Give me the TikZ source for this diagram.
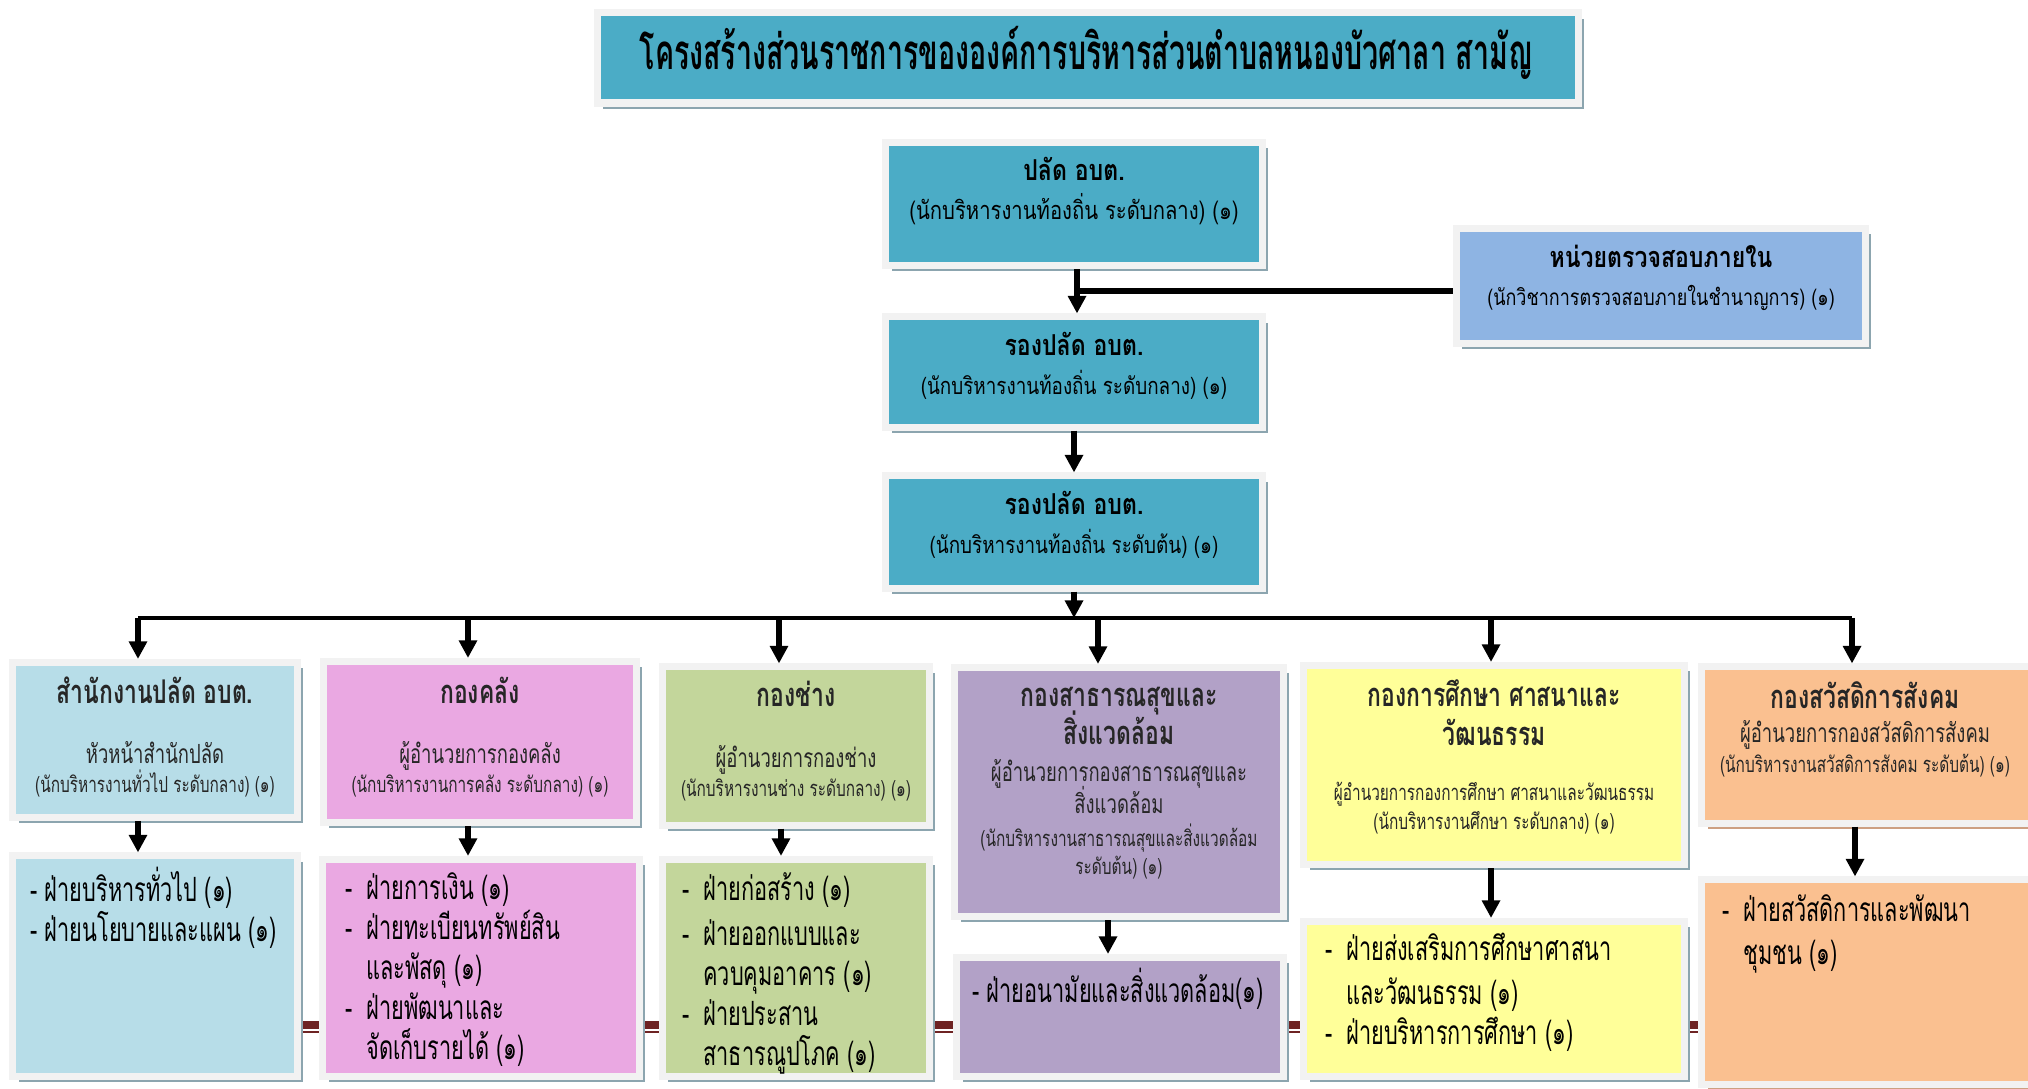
\documentclass[tikz,border=0pt]{standalone}
\definecolor{headteal}{RGB}{75, 172, 198}
\definecolor{auditblue}{RGB}{142, 180, 227}
\definecolor{officeblue}{RGB}{183, 221, 232}
\definecolor{financepink}{RGB}{234, 168, 226}
\definecolor{worksgreen}{RGB}{195, 214, 155}
\definecolor{healthpurple}{RGB}{178, 161, 199}
\definecolor{eduyellow}{RGB}{255, 255, 153}
\definecolor{welfareorange}{RGB}{250, 192, 144}
\definecolor{rimgray}{RGB}{242, 242, 242}
\definecolor{shadowgray}{RGB}{140, 165, 175}
\definecolor{warmshadow}{RGB}{205, 160, 130}
\definecolor{bandred}{RGB}{110, 35, 35}
\usepackage{fontspec}
\setmainfont[Script=Thai]{Loma}
\newfontfamily\topfont[Script=Thai, FakeStretch=0.8]{Loma}
\newfontfamily\condfont[Script=Thai, FakeStretch=0.7]{Loma}
\newfontfamily\itemfont[Script=Thai, FakeStretch=0.65]{Loma}
\newfontfamily\titlefont[Script=Thai, FakeStretch=0.58]{Loma}
\newcommand\itemdash{\makebox[2.1mm][l]{-}}
\newcommand\itemgap{\hspace*{2.1mm}}
\newcommand\fixlines{\lineskiplimit=-1000pt\relax}
\newcommand\tophead{\bfseries\fontsize{8.2}{11}\selectfont}
\newcommand\divhead{\bfseries\fontsize{9.3}{8.25}\selectfont}
\newcommand\divboss{\fontsize{7.5}{8.25}\selectfont}
\usepackage{tikz}
\usetikzlibrary{arrows.meta, shadows}

\begin{document}
\begin{tikzpicture}[x=0.01cm, y=-0.01cm,
  box/.style={fill=#1, draw=rimgray, line width=2pt, inner sep=0pt,
    general shadow={fill=shadowgray, shadow xshift=1.6pt, shadow yshift=-1.6pt}},
  warmbox/.style={fill=#1, draw=rimgray, line width=2pt, inner sep=0pt,
    general shadow={fill=warmshadow, shadow xshift=1.6pt, shadow yshift=-1.6pt}},
  link/.style={-{Triangle[width=5pt, length=5pt]}, line width=1.5pt},
  toptxt/.style={align=center, font=\topfont\fontsize{6.7}{11}\selectfont},
  divtxt/.style={align=center, font=\condfont\fontsize{6.25}{8.25}\selectfont\fixlines, text=black!85},
  itemtxt/.style={align=left, anchor=north west, font=\itemfont\fontsize{9.5}{11.4}\selectfont}]
  \useasboundingbox (0,0) rectangle (2028,1089);

  % Band behind the lower boxes
  \coordinate (bandL) at (297,1025);
  \coordinate (bandR) at (1702,1025);
  \draw[bandred, line width=2pt] (bandL) -- (bandR);
  \draw[bandred, line width=0.5pt] ([yshift=-2pt]bandL) -- ([yshift=-2pt]bandR);

  % Title
  \node[box=headteal, minimum width=9.8cm, minimum height=0.9cm] (title) at (1088,58) {};
  \node[font=\titlefont\bfseries\fontsize{14}{16}\selectfont] (titletxt) at (1086,53)
    {โครงสร้างส่วนราชการขององค์การบริหารส่วนตำบลหนองบัวศาลา สามัญ};

  % Top line of command
  \node[box=headteal, minimum width=3.76cm, minimum height=1.23cm] (palad) at (1074,204) {};
  \node[toptxt] (paladtxt) at (1074,191) {{\tophead ปลัด อบต.}\\ {\fontsize{7.2}{11}\selectfont (นักบริหารงานท้องถิ่น ระดับกลาง) (๑)}};

  \node[box=auditblue, minimum width=4.09cm, minimum height=1.15cm] (audit) at (1661,286) {};
  \node[toptxt] (audittxt) at (1661,278) {{\tophead หน่วยตรวจสอบภายใน}\\ {\fontsize{6.4}{11}\selectfont (นักวิชาการตรวจสอบภายในชำนาญการ) (๑)}};

  \node[box=headteal, minimum width=3.76cm, minimum height=1.10cm] (rong1) at (1074,372) {};
  \node[toptxt] (rong1txt) at (1074,366) {{\tophead รองปลัด อบต.}\\ (นักบริหารงานท้องถิ่น ระดับกลาง) (๑)};

  \node[box=headteal, minimum width=3.76cm, minimum height=1.12cm] (rong2) at (1074,532) {};
  \node[toptxt] (rong2txt) at (1074,525) {{\tophead รองปลัด อบต.}\\ (นักบริหารงานท้องถิ่น ระดับต้น) (๑)};

  \draw[link] ([xshift=0.03cm]palad.south) -- ([xshift=0.03cm]rong1.north);
  \draw[line width=1.7pt] ([yshift=-0.05cm]audit.west) -- ([yshift=-0.05cm]audit.west -| palad.south);
  \draw[link] (rong1) -- (rong2);

  % Divisions
  \node[box=officeblue, minimum width=2.84cm, minimum height=1.55cm] (d1) at (155,740) {};
  \node[divtxt] (d1txt) at (155,737) {{\divhead สำนักงานปลัด อบต.}\\[8.9pt]
    {\divboss หัวหน้าสำนักปลัด}\\ (นักบริหารงานทั่วไป ระดับกลาง) (๑)};

  \node[box=financepink, minimum width=3.13cm, minimum height=1.61cm] (d2) at (480,742) {};
  \node[divtxt] (d2txt) at (480,737) {{\divhead กองคลัง}\\[8.9pt]
    {\divboss ผู้อำนวยการกองคลัง}\\ (นักบริหารงานการคลัง ระดับกลาง) (๑)};

  \node[box=worksgreen, minimum width=2.67cm, minimum height=1.58cm] (d3) at (796,746) {};
  \node[divtxt] (d3txt) at (796,741) {{\divhead กองช่าง}\\[8.9pt]
    {\divboss ผู้อำนวยการกองช่าง}\\ (นักบริหารงานช่าง ระดับกลาง) (๑)};

  \node[box=healthpurple, minimum width=3.28cm, minimum height=2.49cm] (d4) at (1119,792) {};
  \node[divtxt] (d4txt) at (1119,783) {{\divhead กองสาธารณสุขและ}\\[2.5pt] {\divhead สิ่งแวดล้อม}\\[2.3pt]
    {\divboss ผู้อำนวยการกองสาธารณสุขและ}\\[0.9pt] {\divboss สิ่งแวดล้อม}\\[1.2pt]
    (นักบริหารงานสาธารณสุขและสิ่งแวดล้อม\\[-0.5pt] ระดับต้น) (๑)};

  \node[box=eduyellow, minimum width=3.80cm, minimum height=1.99cm] (d5) at (1494,765) {};
  \node[divtxt] (d5txt) at (1494,757) {{\divhead กองการศึกษา ศาสนาและ}\\[2.9pt] {\divhead วัฒนธรรม}\\[7.4pt]
    ผู้อำนวยการกองการศึกษา ศาสนาและวัฒนธรรม\\ (นักบริหารงานศึกษา ระดับกลาง) (๑)};

  \node[warmbox=welfareorange, minimum width=3.40cm, minimum height=1.56cm] (d6) at (1872,745) {};
  \node[divtxt] (d6txt) at (1865,729) {{\divhead กองสวัสดิการสังคม}\\[1.5pt]
    {\divboss ผู้อำนวยการกองสวัสดิการสังคม}\\[0.2pt] (นักบริหารงานสวัสดิการสังคม ระดับต้น) (๑)};

  \coordinate (busL) at (138,618);
  \coordinate (busR) at (1852,618);
  \draw[line width=0.9pt] (busL) -- (busR);
  \draw[link] (rong2.south) -- (rong2.south |- busL);
  \draw[link] (busL) -- (busL |- d1.north);
  \draw[link] ([xshift=-0.12cm]d2.north |- busL) -- ([xshift=-0.12cm]d2.north);
  \draw[link] ([xshift=-0.17cm]d3.north |- busL) -- ([xshift=-0.17cm]d3.north);
  \draw[link] ([xshift=-0.21cm]d4.north |- busL) -- ([xshift=-0.21cm]d4.north);
  \draw[link] ([xshift=-0.03cm]d5.north |- busL) -- ([xshift=-0.03cm]d5.north);
  \draw[link] (busR) -- (busR |- d6.north);

  % Sections
  \node[box=officeblue, minimum width=2.84cm, minimum height=2.20cm] (l1) at (155,966) {};
  \node[itemtxt] (l1txt) at (18,855) {- ฝ่ายบริหารทั่วไป (๑)\\ - ฝ่ายนโยบายและแผน (๑)};

  \node[box=financepink, minimum width=3.16cm, minimum height=2.17cm] (l2) at (481,968) {};
  \node[itemtxt] (l2txt) at (333,860) {\itemdash ฝ่ายการเงิน (๑)\\ \itemdash ฝ่ายทะเบียนทรัพย์สิน\\
    \itemgap และพัสดุ (๑)\\ \itemdash ฝ่ายพัฒนาและ\\ \itemgap จัดเก็บรายได้ (๑)};

  \node[box=worksgreen, minimum width=2.67cm, minimum height=2.17cm] (l3) at (796,968) {};
  \node[itemtxt] (l3txt) at (670,860) {\itemdash ฝ่ายก่อสร้าง (๑)\\[1.5pt] \itemdash ฝ่ายออกแบบและ\\
    \itemgap ควบคุมอาคาร (๑)\\ \itemdash ฝ่ายประสาน\\ \itemgap สาธารณูปโภค (๑)};

  \node[box=healthpurple, minimum width=3.26cm, minimum height=1.19cm] (l4) at (1120,1017) {};
  \node[itemtxt] (l4txt) at (960,956) {- ฝ่ายอนามัยและสิ่งแวดล้อม(๑)};

  \node[box=eduyellow, minimum width=3.80cm, minimum height=1.55cm] (l5) at (1494,999) {};
  \node[itemtxt] (l5txt) at (1313,921) {\itemdash ฝ่ายส่งเสริมการศึกษาศาสนา\\[1pt]
    \itemgap และวัฒนธรรม (๑)\\ \itemdash ฝ่ายบริหารการศึกษา (๑)};

  \node[warmbox=welfareorange, minimum width=3.40cm, minimum height=2.04cm] (l6) at (1872,982) {};
  \node[itemtxt] (l6txt) at (1710,882) {\itemdash ฝ่ายสวัสดิการและพัฒนา\\[0.8pt] \itemgap ชุมชน (๑)};

  \draw[link] ([xshift=-0.17cm]d1.south) -- ([xshift=-0.17cm]d1.south |- l1.north);
  \draw[link] ([xshift=-0.12cm]d2.south) -- ([xshift=-0.12cm]d2.south |- l2.north);
  \draw[link] ([xshift=-0.15cm]d3.south) -- ([xshift=-0.15cm]d3.south |- l3.north);
  \draw[link] ([xshift=-0.11cm]d4.south) -- ([xshift=-0.11cm]d4.south |- l4.north);
  \draw[link] ([xshift=-0.03cm]d5.south) -- ([xshift=-0.03cm]d5.south |- l5.north);
  \draw[link] ([xshift=-0.17cm]d6.south) -- ([xshift=-0.17cm]d6.south |- l6.north);
\end{tikzpicture}
\end{document}
